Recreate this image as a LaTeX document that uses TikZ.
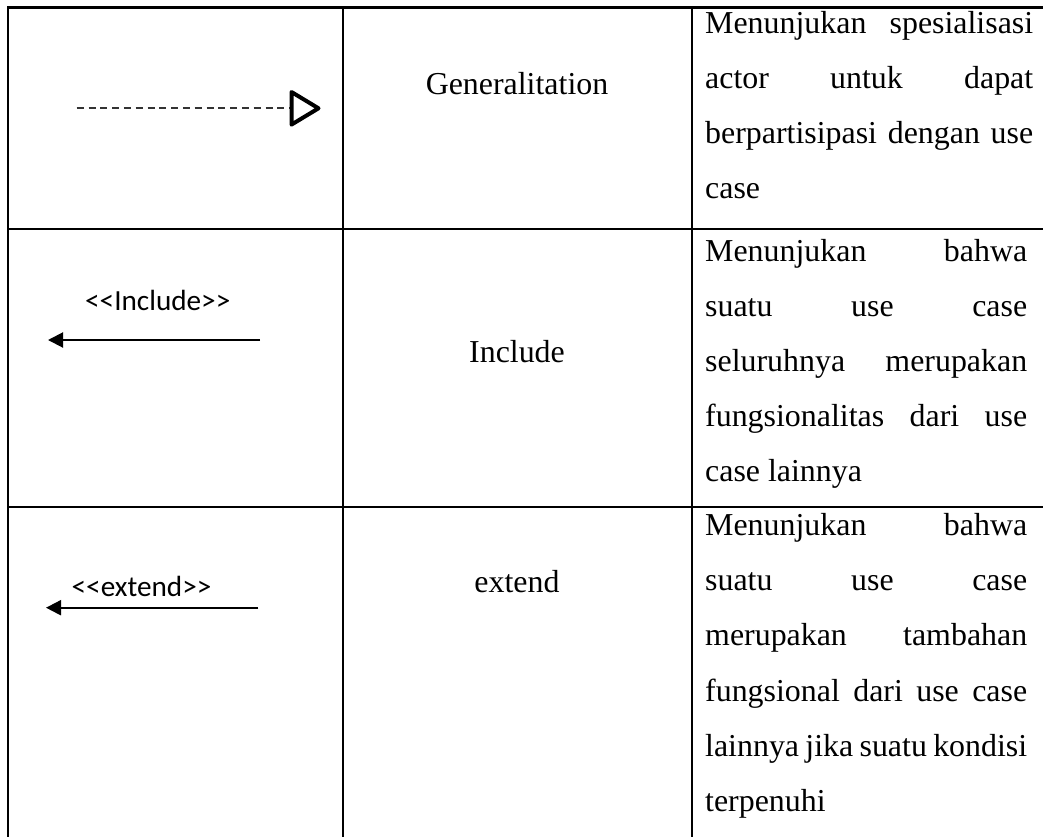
\documentclass[tikz,border=0pt]{standalone}
\usepackage{fontspec}
\setmainfont{Liberation Serif}
\newfontfamily\stereofont{Carlito}
\usetikzlibrary{arrows.meta}

% one justified line of a description cell
\newcommand\justline[2]{\makebox[#1pt][s]{#2}}

\begin{document}
\begin{tikzpicture}[x=1pt,y=-1pt,
  rule/.style={line width=2.2pt},
  body/.style={anchor=base west, inner sep=0pt, font=\fontsize{31.9}{55}\selectfont},
  title/.style={anchor=base, inner sep=0pt, font=\fontsize{31.9}{55}\selectfont},
  stereo/.style={anchor=base west, inner sep=0pt, font=\stereofont\fontsize{29.2}{35}\selectfont},
  dep/.style={line width=2pt, -{Triangle[length=15pt,width=15pt]}},
  gen/.style={line width=2pt, draw=black!80, dash pattern=on 7pt off 4.8pt},
]
\useasboundingbox (0,0) rectangle (1043,836);
\clip (0,0) rectangle (1043,836);

% table rules
\draw[rule] (1060,7.5) -- (8.3,7.5) -- (8.3,850);
\draw[rule] (342.7,7.5) -- (342.7,850);
\draw[rule] (691.7,7.5) -- (691.7,850);
\draw[rule] (8.3,229.3) -- (1060,229.3);
\draw[rule] (8.3,506.7) -- (1060,506.7);

% row 1: generalization
\coordinate (genA) at (76.7,108.3);
\coordinate (genB) at (291.5,108.3);
\draw[gen] (genA) -- (genB);
\draw[line width=4pt, line join=round] (291.5,92) -- (318.5,108.3) -- (291.5,124.6) -- cycle;
\node[title] (gname) at (517,94) {Generalitation};
\node[body] (g1) at (705,33) {\justline{328}{Menunjukan spesialisasi}};
\node[body] (g2) at (705,88) {\justline{328}{actor untuk dapat}};
\node[body] (g3) at (705,143) {\justline{328}{berpartisipasi dengan use}};
\node[body] (g4) at (705,198) {case};

% row 2: include
\node[stereo] (ilabel) at (85,310.7) {<{}<Include>{}>};
\coordinate (incA) at (260,340);
\coordinate (incB) at (48,340);
\draw[dep] (incA) -- (incB);
\node[title] (iname) at (517,362) {Include};
\node[body] (i1) at (705,261) {\justline{322}{Menunjukan bahwa}};
\node[body] (i2) at (705,316) {\justline{322}{suatu use case}};
\node[body] (i3) at (705,371) {\justline{322}{seluruhnya merupakan}};
\node[body] (i4) at (705,426) {\justline{322}{fungsionalitas dari use}};
\node[body] (i5) at (705,481) {case lainnya};

% row 3: extend
\node[stereo] (elabel) at (71.5,596.7) {<{}<extend>{}>};
\coordinate (extA) at (258.3,607.7);
\coordinate (extB) at (46,607.7);
\draw[dep] (extA) -- (extB);
\node[title] (ename) at (517,592.7) {extend};
\node[body] (e1) at (705,535) {\justline{322}{Menunjukan bahwa}};
\node[body] (e2) at (705,590) {\justline{322}{suatu use case}};
\node[body] (e3) at (705,645) {\justline{322}{merupakan tambahan}};
\node[body] (e4) at (705,701) {\justline{322}{fungsional dari use case}};
\node[body] (e5) at (705,756) {\justline{322}{lainnya jika suatu kondisi}};
\node[body] (e6) at (705,811) {terpenuhi};
\end{tikzpicture}
\end{document}
